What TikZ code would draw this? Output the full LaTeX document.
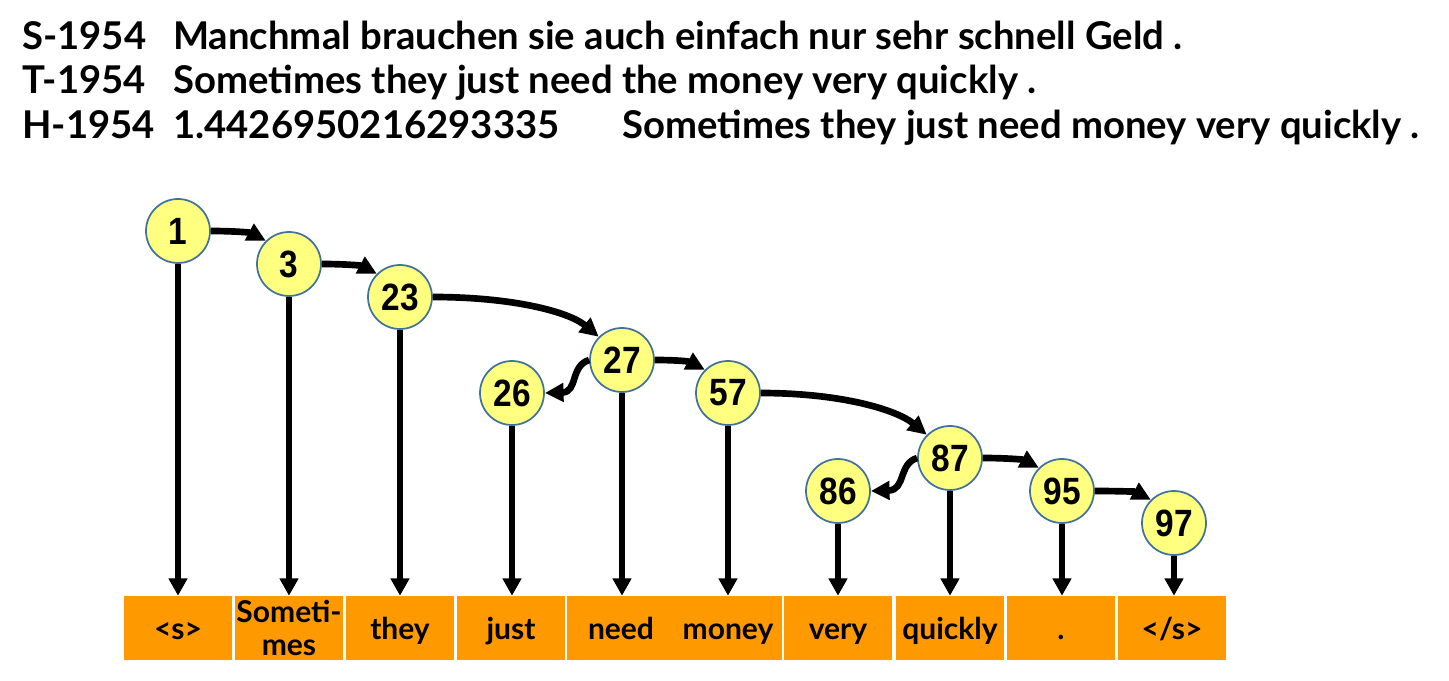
\documentclass[tikz,border=0pt]{standalone}
\usepackage{fontspec}
\setmainfont{Lato}
\newfontfamily\numfont[FakeStretch=0.88]{Liberation Sans}
\usetikzlibrary{arrows.meta}
\definecolor{nodefill}{RGB}{255,255,128}
\definecolor{nodeline}{RGB}{65,113,156}
\definecolor{boxfill}{RGB}{255,153,0}
\tikzset{
  hdr/.style={anchor=base west, inner sep=0pt, font=\fontsize{28.7}{30}\selectfont\bfseries},
  num/.style={circle, draw=nodeline, line width=1.3pt, fill=nodefill, minimum size=48pt, inner sep=0pt, font=\numfont\fontsize{28.5}{29}\selectfont\bfseries},
  tok/.style={rectangle, fill=boxfill, minimum width=81pt, minimum height=48pt, inner sep=0pt},
  tokt/.style={anchor=base, inner sep=0pt, font=\fontsize{22.5}{22}\selectfont\bfseries},
  vline/.style={line width=5pt, -{Triangle[length=13pt,width=13.5pt]}},
  carc/.style={line width=5pt, -{Triangle[length=14pt,width=13.5pt]}}
}
\begin{document}
\begin{tikzpicture}[x=0.75pt,y=-0.75pt]
\useasboundingbox (0,0) rectangle (1449,681);
% header
\node[hdr] (s1) at (22,50) {S-1954};
\node[hdr] (s2) at (173,50) {Manchmal brauchen sie auch einfach nur sehr schnell Geld .};
\node[hdr] (t1) at (22,94) {T-1954};
\node[hdr] (t2) at (173,94) {Sometimes they just need the money very quickly .};
\node[hdr] (h1) at (22,139) {H-1954};
\node[hdr] (h2) at (173,139) {1.4426950216293335};
\node[hdr] (h3) at (622,139) {Sometimes they just need money very quickly .};
% tokens
\node[tok] (b1) at (178,628) {};
\node[tok] (b2) at (289,628) {};
\node[tok] (b3) at (400,628) {};
\node[tok] (b4) at (511,628) {};
\node[tok] (b5) at (621,628) {};
\node[tok] (b6) at (728,628) {};
\node[tok] (b7) at (838,628) {};
\node[tok] (b8) at (950,628) {};
\node[tok] (b9) at (1061,628) {};
\node[tok] (b10) at (1172,628) {};
\node[tokt] (l1) at (178,639) {<s>};
\node[tokt] (l2a) at (289,622) {Someti-};
\node[tokt] (l2b) at (289,655) {mes};
\node[tokt] (l3) at (400,639) {they};
\node[tokt] (l4) at (511,639) {just};
\node[tokt] (l5) at (621,639) {need};
\node[tokt] (l6) at (728,639) {money};
\node[tokt] (l7) at (838,639) {very};
\node[tokt] (l8) at (950,639) {quickly};
\node[tokt] (l9) at (1061,639) {.};
\node[tokt] (l10) at (1172,639) {</s>};
% number nodes
\node[num] (n1) at (178,231) {1};
\node[num] (n3) at (289,264) {3};
\node[num] (n23) at (400,297) {23};
\node[num] (n27) at (622,360) {27};
\node[num] (n26) at (512,393) {26};
\node[num] (n57) at (728,393) {57};
\node[num] (n87) at (950,458) {87};
\node[num] (n86) at (838,491) {86};
\node[num] (n95) at (1062,491) {95};
\node[num] (n97) at (1174,523) {97};
% vertical arrows
\draw[vline] (n1.south) -- (n1.south |- b1.north);
\draw[vline] (n3.south) -- (n3.south |- b2.north);
\draw[vline] (n23.south) -- (n23.south |- b3.north);
\draw[vline] (n26.south) -- (n26.south |- b4.north);
\draw[vline] (n27.south) -- (n27.south |- b5.north);
\draw[vline] (n57.south) -- (n57.south |- b6.north);
\draw[vline] (n86.south) -- (n86.south |- b7.north);
\draw[vline] (n87.south) -- (n87.south |- b8.north);
\draw[vline] (n95.south) -- (n95.south |- b9.north);
\draw[vline] (n97.south) -- (n97.south |- b10.north);
% curved arrows
\draw[carc] (n1.east) .. controls +(25,0) and +(-15,-8) .. (n3.north west);
\draw[carc] (n3.east) .. controls +(25,0) and +(-15,-8) .. (n23.north west);
\draw[carc] (n23.east) .. controls +(80,0) and +(-30,-25) .. (n27.north west);
\draw[carc] (n27.east) .. controls +(25,0) and +(-15,-8) .. (n57.north west);
\draw[carc] (n57.east) .. controls +(80,0) and +(-30,-25) .. (n87.north west);
\draw[carc] (n87.east) .. controls +(25,0) and +(-15,-8) .. (n95.north west);
\draw[carc] (n95.east) .. controls +(25,0) and +(-15,-8) .. (n97.north west);
\draw[carc] (n27.west) .. controls (570,366) and (578,392) .. (n26.east);
\draw[carc] (n87.west) .. controls (898,464) and (906,490) .. (n86.east);
\end{tikzpicture}
\end{document}
